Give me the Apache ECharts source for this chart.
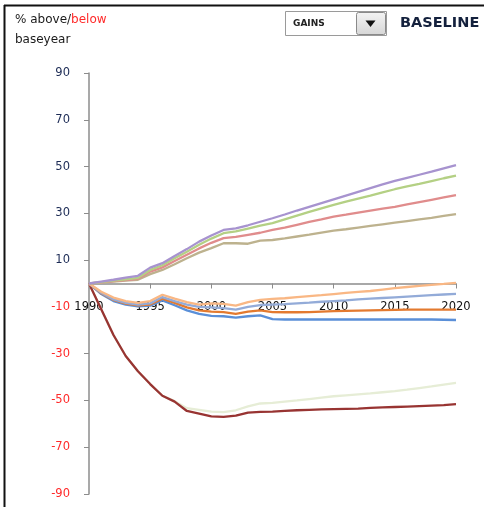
<!DOCTYPE html>
<html><head><meta charset="utf-8">
<script src="https://cdn.jsdelivr.net/npm/echarts@6/dist/echarts.min.js"></script>
<style>html,body{margin:0;padding:0;background:#fff}#c{width:484px;height:507px}</style>
</head><body><div id="c"></div>
<script>
const years = [1990,1991,1992,1993,1994,1995,1996,1997,1998,1999,2000,2001,2002,2003,2004,2005,2006,2007,2008,2009,2010,2011,2012,2013,2014,2015,2016,2017,2018,2019,2020];
const yTicks = [-90,-70,-50,-30,-10,10,30,50,70,90];
const xTicks = [1990,1995,2000,2005,2010,2015,2020];

const paleGreen = [0,-11,-22,-31,-37.5,-43,-48,-50.3,-53.3,-54,-54.8,-55,-54.2,-52.5,-51.3,-51,-50.5,-50,-49.4,-48.8,-48.2,-47.8,-47.4,-47,-46.5,-46,-45.4,-44.7,-44,-43.2,-42.5];
const darkRed = [0,-11,-22,-31,-37.5,-43,-48,-50.5,-54.5,-55.6,-56.8,-57,-56.5,-55.2,-54.9,-54.8,-54.5,-54.2,-54,-53.8,-53.7,-53.6,-53.5,-53.2,-53,-52.8,-52.6,-52.4,-52.2,-52,-51.6];
const blue = [0,-4.5,-7.5,-9,-9.8,-9.5,-7.2,-9.3,-11.5,-13,-13.8,-14,-14.6,-14,-13.6,-15.2,-15.4,-15.4,-15.4,-15.4,-15.4,-15.4,-15.4,-15.4,-15.4,-15.4,-15.4,-15.4,-15.4,-15.5,-15.6];
const darkOrange = [0,-4.2,-7,-8.6,-9.3,-9,-6.5,-8.3,-10.2,-11.5,-12,-12.2,-13,-12,-11.5,-12.2,-12.3,-12.3,-12.2,-12,-11.8,-11.7,-11.6,-11.5,-11.4,-11.3,-11.2,-11.2,-11.2,-11.2,-11.2];
const lightBlue = [0,-4,-6.8,-8.3,-9,-8.5,-5.8,-7.5,-9,-10,-10.2,-10.5,-11.2,-10,-9.2,-9,-8.8,-8.5,-8.2,-7.8,-7.5,-7.2,-6.8,-6.5,-6.2,-5.9,-5.6,-5.3,-5,-4.7,-4.4];
const lightOrange = [0,-3.5,-6,-7.5,-8.3,-7.5,-4.8,-6.5,-8,-9,-8.5,-8.7,-9.5,-8,-7,-6.6,-6.3,-5.8,-5.4,-5,-4.5,-4,-3.6,-3.2,-2.6,-2,-1.5,-1,-0.6,-0.2,0.3];
const olive = [0,0.4,0.8,1.2,1.6,4,5.8,8.2,10.8,13.2,15.1,17.2,17.2,17,18.3,18.6,19.3,20.1,20.9,21.8,22.6,23.2,23.9,24.6,25.3,26,26.7,27.4,28.1,28.9,29.7];
const red = [0,0.5,1,1.5,2,5.1,6.9,9.6,12.3,15,17.4,19.4,19.9,20.8,21.7,22.9,23.9,25.1,26.3,27.4,28.6,29.4,30.3,31.2,32,32.8,33.8,34.8,35.8,36.8,37.8];
const green = [0,0.6,1.2,1.8,2.4,5.8,7.8,10.8,13.6,16.6,19.2,21.5,22.3,23.5,24.7,25.8,27.4,29,30.6,32.1,33.6,35,36.3,37.6,39,40.3,41.5,42.6,43.8,45,46.1];
const purple = [0,0.8,1.6,2.5,3.3,6.8,8.7,11.8,14.7,17.9,20.5,22.9,23.6,24.9,26.4,27.9,29.5,31.2,32.8,34.4,36,37.6,39.2,40.8,42.4,43.9,45.2,46.5,47.8,49.2,50.6];

const seriesDefs = [
  {name:'paleGreen', data:paleGreen, color:'#e6edd6'},
  {name:'darkRed', data:darkRed, color:'#983432'},
  {name:'blue', data:blue, color:'#5a8fd8'},
  {name:'darkOrange', data:darkOrange, color:'#e37a30'},
  {name:'lightBlue', data:lightBlue, color:'#93abd8'},
  {name:'lightOrange', data:lightOrange, color:'#f9b784'},
  {name:'olive', data:olive, color:'#bdb28e'},
  {name:'red', data:red, color:'#e08c8c'},
  {name:'green', data:green, color:'#b4d084'},
  {name:'purple', data:purple, color:'#a793cf'}
];

const GRID_TOP = 73, GRID_BOTTOM = 13, H = 507;
const Y_MIN = -90, Y_MAX = 90;
const gridH = H - GRID_TOP - GRID_BOTTOM;
const zeroOffset = -gridH * (0 - Y_MIN) / (Y_MAX - Y_MIN);

const chart = echarts.init(document.getElementById('c'), null, {renderer:'canvas'});
const font = 'DejaVu Sans';
chart.setOption({
  animation:false,
  backgroundColor:'#fff',
  grid:{left:89, right:28, top:GRID_TOP, bottom:GRID_BOTTOM, containLabel:false},
  xAxis:{
    type:'value', min:1990, max:2020, interval:5, position:'bottom', offset:zeroOffset,
    axisLine:{show:true, onZero:false, lineStyle:{color:'#8c8c8c', width:1.5}},
    axisTick:{show:true, length:5, inside:false, lineStyle:{color:'#8c8c8c'}},
    axisLabel:{show:true, margin:18, color:'#111', fontFamily:font, fontSize:11.5,
      formatter:v=>String(v), customValues:xTicks},
    splitLine:{show:false}
  },
  yAxis:{
    type:'value', min:Y_MIN, max:Y_MAX,
    axisLine:{show:true, lineStyle:{color:'#8c8c8c', width:1.5}},
    axisTick:{show:true, length:5, customValues:yTicks, lineStyle:{color:'#8c8c8c'}},
    axisLabel:{show:true, margin:19, fontFamily:font, fontSize:11.5, customValues:yTicks,
      color:(v)=> (Number(v) < 0 ? '#ff2a2a' : '#1c2b55')},
    splitLine:{show:false}
  },
  series: seriesDefs.map(s=>({
    name:s.name, type:'line', showSymbol:false, symbol:'none', smooth:false,
    lineStyle:{color:s.color, width:2.3}, itemStyle:{color:s.color},
    data: years.map((y,i)=>[y, s.data[i]])
  })),
  graphic:[
    {type:'line', shape:{x1:4, y1:5.5, x2:484, y2:5.5}, style:{stroke:'#111', lineWidth:2}},
    {type:'line', shape:{x1:4.5, y1:5, x2:4.5, y2:507}, style:{stroke:'#111', lineWidth:2}},
    {type:'text', left:15, top:14, style:{rich:{a:{fill:'#1a1a1a', fontFamily:font, fontSize:12}, b:{fill:'#ff2a2a', fontFamily:font, fontSize:12}}, text:'{a|% above/}{b|below}'}},
    {type:'text', left:15, top:34, style:{text:'baseyear', fill:'#1a1a1a', fontFamily:font, fontSize:12}},
    {type:'rect', shape:{x:285.5, y:11.5, width:101, height:24}, style:{fill:'#fff', stroke:'#9a9a9a', lineWidth:1}},
    {type:'rect', shape:{x:356.5, y:12.5, width:29, height:22, r:2}, style:{fill:new echarts.graphic.LinearGradient(0,0,0,1,[{offset:0,color:'#f4f4f4'},{offset:1,color:'#d6d6d6'}]), stroke:'#8a8a8a', lineWidth:1}},
    {type:'polygon', shape:{points:[[365.5,20.5],[375.5,20.5],[370.5,27]]}, style:{fill:'#111'}},
    {type:'text', left:293, top:19, style:{text:'GAINS', fill:'#222', fontFamily:font, fontSize:9, fontWeight:'bold'}},
    {type:'text', left:400, top:16, style:{text:'BASELINE', fill:'#14213d', fontFamily:font, fontSize:14.5, fontWeight:'bold'}}
  ]
});
</script></body></html>
